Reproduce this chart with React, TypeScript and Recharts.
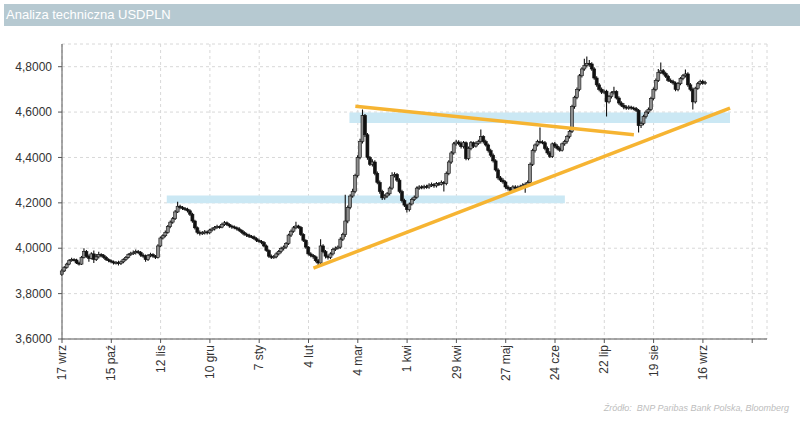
import { ComposedChart, Bar, XAxis, YAxis, CartesianGrid, ReferenceLine, ReferenceArea } from "recharts";

const FONT = "'Liberation Sans', Arial, sans-serif";

// USDPLN daily candles, trading-day index 0 = 17 wrz
const FIRST_OPEN = 3.885;

const CLOSE = [
  3.900, 3.915, 3.930, 3.945, 3.950,
  3.948, 3.935, 3.930, 3.960, 3.985,
  3.965, 3.955, 3.975, 3.950, 3.962,
  3.972, 3.968, 3.960, 3.950, 3.945,
  3.940, 3.935, 3.938, 3.932, 3.940,
  3.950, 3.960, 3.972, 3.978, 3.980,
  3.985, 3.982, 3.970, 3.965, 3.950,
  3.968, 3.972, 3.965, 3.960, 4.010,
  4.045, 4.055, 4.070, 4.095, 4.115,
  4.130, 4.160, 4.185, 4.180, 4.175,
  4.172, 4.165, 4.150, 4.120, 4.090,
  4.070, 4.065, 4.068, 4.072, 4.068,
  4.080, 4.085, 4.092, 4.095, 4.093,
  4.105, 4.112, 4.105, 4.098, 4.094,
  4.090, 4.085, 4.078, 4.070, 4.062,
  4.058, 4.052, 4.050, 4.042, 4.035,
  4.030, 4.025, 4.010, 3.990, 3.965,
  3.960, 3.962, 3.975, 3.985, 3.998,
  4.005, 4.020, 4.058, 4.075, 4.090,
  4.098, 4.092, 4.060, 4.035, 4.005,
  3.975, 3.968, 3.962, 3.945, 3.935,
  4.010, 3.985, 3.965, 3.960, 3.975,
  3.995, 4.000, 4.005, 4.040, 4.060,
  4.120, 4.180, 4.230, 4.250, 4.320,
  4.400, 4.470, 4.585, 4.500, 4.400,
  4.370, 4.380, 4.330, 4.290, 4.250,
  4.222, 4.230, 4.240, 4.265, 4.320,
  4.325, 4.300, 4.250, 4.210, 4.190,
  4.170, 4.195, 4.215, 4.225, 4.265,
  4.270, 4.268, 4.272, 4.270, 4.278,
  4.280, 4.275, 4.285, 4.282, 4.290,
  4.285, 4.330, 4.380, 4.420, 4.460,
  4.468, 4.462, 4.448, 4.465, 4.395,
  4.440, 4.465, 4.450, 4.462, 4.470,
  4.492, 4.470, 4.455, 4.430, 4.410,
  4.385, 4.345, 4.310, 4.300, 4.292,
  4.270, 4.262, 4.255, 4.270, 4.265,
  4.268, 4.272, 4.278, 4.282, 4.290,
  4.370, 4.430, 4.455, 4.470, 4.468,
  4.465, 4.440, 4.420, 4.405, 4.460,
  4.450, 4.440, 4.432, 4.460, 4.470,
  4.492, 4.515, 4.625, 4.665, 4.700,
  4.760, 4.790, 4.805, 4.815, 4.812,
  4.790, 4.750, 4.720, 4.700, 4.688,
  4.692, 4.645, 4.668, 4.685, 4.690,
  4.662, 4.640, 4.630, 4.622, 4.618,
  4.622, 4.618, 4.615, 4.608, 4.540,
  4.550, 4.580, 4.600, 4.612, 4.660,
  4.700, 4.740, 4.775, 4.782, 4.770,
  4.758, 4.740, 4.735, 4.728, 4.700,
  4.725, 4.748, 4.760, 4.768, 4.720,
  4.700, 4.645, 4.705, 4.725, 4.735,
  4.728, 4.730,
];

const HIGH = [
  3.908, 3.922, 3.936, 3.952, 3.958,
  3.956, 3.954, 3.942, 3.966, 4.000,
  3.992, 3.972, 3.982, 3.990, 3.975,
  3.985, 3.978, 3.975, 3.966, 3.956,
  3.950, 3.946, 3.944, 3.945, 3.946,
  3.956, 3.966, 3.978, 3.985, 3.990,
  3.994, 3.992, 3.988, 3.978, 3.972,
  3.975, 3.980, 3.978, 3.970, 4.018,
  4.052, 4.062, 4.078, 4.102, 4.122,
  4.138, 4.168, 4.205, 4.192, 4.186,
  4.182, 4.178, 4.172, 4.156, 4.126,
  4.096, 4.078, 4.076, 4.080, 4.078,
  4.086, 4.092, 4.098, 4.104, 4.100,
  4.112, 4.120, 4.118, 4.110, 4.104,
  4.100, 4.096, 4.092, 4.084, 4.076,
  4.068, 4.064, 4.058, 4.056, 4.048,
  4.042, 4.036, 4.032, 4.016, 3.996,
  3.972, 3.970, 3.982, 3.992, 4.006,
  4.012, 4.028, 4.064, 4.082, 4.098,
  4.117, 4.104, 4.098, 4.066, 4.040,
  4.010, 3.982, 3.975, 3.968, 3.952,
  4.040, 4.018, 3.992, 3.972, 3.982,
  4.002, 4.008, 4.012, 4.048, 4.068,
  4.236, 4.188, 4.238, 4.262, 4.328,
  4.410, 4.482, 4.611, 4.592, 4.508,
  4.406, 4.392, 4.388, 4.338, 4.298,
  4.258, 4.238, 4.248, 4.272, 4.335,
  4.335, 4.332, 4.308, 4.258, 4.218,
  4.196, 4.202, 4.222, 4.232, 4.272,
  4.278, 4.278, 4.280, 4.280, 4.286,
  4.290, 4.288, 4.292, 4.292, 4.298,
  4.296, 4.338, 4.388, 4.428, 4.468,
  4.478, 4.476, 4.470, 4.472, 4.470,
  4.448, 4.472, 4.470, 4.470, 4.478,
  4.523, 4.498, 4.478, 4.462, 4.438,
  4.418, 4.392, 4.352, 4.318, 4.308,
  4.298, 4.278, 4.270, 4.278, 4.278,
  4.276, 4.280, 4.286, 4.290, 4.298,
  4.378, 4.438, 4.462, 4.478, 4.532,
  4.476, 4.472, 4.448, 4.428, 4.466,
  4.468, 4.458, 4.448, 4.466, 4.478,
  4.500, 4.522, 4.632, 4.672, 4.708,
  4.768, 4.798, 4.835, 4.845, 4.830,
  4.820, 4.798, 4.758, 4.728, 4.708,
  4.700, 4.698, 4.675, 4.692, 4.712,
  4.696, 4.670, 4.648, 4.640, 4.630,
  4.630, 4.628, 4.625, 4.622, 4.614,
  4.558, 4.588, 4.608, 4.620, 4.668,
  4.708, 4.748, 4.790, 4.818, 4.790,
  4.778, 4.765, 4.748, 4.742, 4.735,
  4.732, 4.755, 4.768, 4.788, 4.775,
  4.728, 4.708, 4.712, 4.732, 4.742,
  4.742, 4.738,
];

const LOW = [
  3.878, 3.895, 3.910, 3.925, 3.940,
  3.942, 3.930, 3.924, 3.926, 3.955,
  3.958, 3.940, 3.950, 3.935, 3.944,
  3.955, 3.960, 3.954, 3.944, 3.938,
  3.934, 3.928, 3.928, 3.924, 3.926,
  3.934, 3.944, 3.955, 3.966, 3.970,
  3.972, 3.975, 3.962, 3.958, 3.940,
  3.944, 3.960, 3.958, 3.952, 3.955,
  4.004, 4.038, 4.048, 4.064, 4.088,
  4.108, 4.124, 4.155, 4.172, 4.168,
  4.165, 4.158, 4.142, 4.112, 4.082,
  4.062, 4.056, 4.058, 4.060, 4.060,
  4.062, 4.074, 4.078, 4.086, 4.086,
  4.088, 4.098, 4.098, 4.090, 4.086,
  4.084, 4.078, 4.072, 4.064, 4.055,
  4.050, 4.045, 4.044, 4.036, 4.028,
  4.024, 4.018, 4.004, 3.984, 3.958,
  3.952, 3.954, 3.956, 3.968, 3.978,
  3.990, 3.998, 4.014, 4.050, 4.068,
  4.084, 4.086, 4.054, 4.028, 3.998,
  3.968, 3.960, 3.954, 3.938, 3.925,
  3.930, 3.978, 3.955, 3.950, 3.952,
  3.968, 3.988, 3.994, 3.998, 4.032,
  4.050, 4.110, 4.172, 4.222, 4.242,
  4.312, 4.392, 4.462, 4.490, 4.390,
  4.362, 4.360, 4.322, 4.282, 4.240,
  4.212, 4.214, 4.222, 4.232, 4.258,
  4.312, 4.292, 4.242, 4.202, 4.182,
  4.158, 4.162, 4.188, 4.208, 4.218,
  4.258, 4.260, 4.260, 4.262, 4.262,
  4.270, 4.266, 4.268, 4.274, 4.276,
  4.250, 4.278, 4.322, 4.372, 4.412,
  4.452, 4.454, 4.440, 4.440, 4.388,
  4.388, 4.432, 4.442, 4.444, 4.455,
  4.462, 4.462, 4.448, 4.422, 4.402,
  4.378, 4.338, 4.302, 4.292, 4.284,
  4.262, 4.254, 4.248, 4.250, 4.258,
  4.256, 4.262, 4.266, 4.245, 4.275,
  4.284, 4.362, 4.422, 4.448, 4.460,
  4.458, 4.432, 4.412, 4.398, 4.398,
  4.442, 4.432, 4.425, 4.426, 4.452,
  4.462, 4.484, 4.508, 4.615, 4.656,
  4.692, 4.752, 4.782, 4.796, 4.800,
  4.782, 4.742, 4.712, 4.692, 4.680,
  4.680, 4.580, 4.638, 4.660, 4.678,
  4.655, 4.632, 4.622, 4.612, 4.610,
  4.610, 4.610, 4.608, 4.600, 4.510,
  4.530, 4.542, 4.572, 4.592, 4.605,
  4.652, 4.692, 4.732, 4.768, 4.762,
  4.750, 4.732, 4.728, 4.720, 4.692,
  4.692, 4.718, 4.740, 4.752, 4.712,
  4.692, 4.611, 4.638, 4.698, 4.718,
  4.720, 4.720,
];

const X_TICKS = [0, 20, 40, 60, 80, 100, 120, 140, 160, 180, 200, 220, 240, 260, 280];
const X_LABELS = [
  "17 wrz", "15 paź", "12 lis", "10 gru", "7 sty", "4 lut", "4 mar", "1 kwi",
  "29 kwi", "27 maj", "24 cze", "22 lip", "19 sie", "16 wrz", "",
];
const Y_TICKS = [3.6, 3.8, 4.0, 4.2, 4.4, 4.6, 4.8];

// trend lines and zones (x = trading-day index)
const SUPPORT_LINE = [{ x: 102, y: 3.912 }, { x: 271, y: 4.617 }];
const RESISTANCE_LINE = [{ x: 119, y: 4.626 }, { x: 232, y: 4.5 }];
const ZONES = [
  { x1: 42.5, x2: 204, y1: 4.198, y2: 4.232 },
  { x1: 116.6, x2: 271, y1: 4.552, y2: 4.598 },
];

const data = CLOSE.map((close, i) => ({
  i,
  open: i === 0 ? FIRST_OPEN : CLOSE[i - 1],
  close,
  high: HIGH[i],
  low: LOW[i],
  range: [LOW[i], HIGH[i]],
}));

function Candle(props: any) {
  const { x, y, width, height, payload } = props;
  if (x == null || y == null) return null;
  const { open, close, high, low } = payload;
  const yTop = Math.min(y, y + height);
  const yBot = Math.max(y, y + height);
  const span = high - low || 1e-6;
  const toY = (v: number) => yTop + ((high - v) / span) * (yBot - yTop);
  const up = close >= open;
  const bTop = toY(Math.max(open, close));
  const bBot = toY(Math.min(open, close));
  const cx = x + width / 2;
  return (
    <g>
      <line x1={cx} x2={cx} y1={yTop} y2={yBot} stroke="#111" strokeWidth={1.1} />
      <rect
        x={cx - 1.5}
        y={bTop}
        width={3}
        height={Math.max(bBot - bTop, 1)}
        fill={up ? "#8e8e8e" : "#111"}
        stroke="#111"
        strokeWidth={0.6}
      />
    </g>
  );
}

function DateTick(props: any) {
  const { x, y, payload } = props;
  const label = X_LABELS[Math.round(payload.value / 20)] ?? "";
  return (
    <text
      x={x}
      y={y}
      dy="0.35em"
      transform={`rotate(-90, ${x}, ${y})`}
      textAnchor="end"
      fontSize={12}
      fontFamily={FONT}
      fill="#333"
    >
      {label}
    </text>
  );
}

export default function App() {
  return (
    <div style={{ position: "absolute", left: 0, top: 0, width: 800, height: 422, background: "#fff" }}>
      <div
        style={{
          position: "absolute",
          left: 4,
          top: 4,
          width: 796,
          height: 22,
          background: "#b6c9d1",
          color: "#fff",
          fontFamily: FONT,
          fontSize: 13,
          lineHeight: "22px",
          paddingLeft: 2,
          boxSizing: "border-box",
        }}
      >
        Analiza techniczna USDPLN
      </div>
      <div style={{ position: "absolute", left: 0, top: 0 }}>
        <ComposedChart width={800} height={422} data={data} margin={{ top: 44, right: 33, left: 7, bottom: 23 }}>
          <CartesianGrid stroke="#d8d8d8" strokeDasharray="3 3" />
          <XAxis
            dataKey="i"
            type="number"
            domain={[0, 286]}
            ticks={X_TICKS}
            interval={0}
            height={60}
            tick={<DateTick />}
            tickSize={4}
            tickMargin={2}
            axisLine={{ stroke: "#555" }}
            tickLine={{ stroke: "#555" }}
          />
          <YAxis
            domain={[3.6, 4.9]}
            ticks={Y_TICKS}
            width={55}
            tickSize={4}
            tickMargin={6}
            tickFormatter={(v: number) => v.toFixed(4).replace(".", ",")}
            tick={{ fontSize: 12, fontFamily: FONT, fill: "#333" }}
            axisLine={{ stroke: "#555" }}
            tickLine={{ stroke: "#555" }}
            allowDataOverflow
          />
          {ZONES.map((z, k) => (
            <ReferenceArea key={k} x1={z.x1} x2={z.x2} y1={z.y1} y2={z.y2} fill="#cbe8f4" fillOpacity={1} stroke="none" />
          ))}
          <Bar dataKey="range" barSize={2} shape={<Candle />} isAnimationActive={false} />
          <ReferenceLine segment={SUPPORT_LINE} stroke="#f6b432" strokeWidth={3.5} />
          <ReferenceLine segment={RESISTANCE_LINE} stroke="#f6b432" strokeWidth={3.5} />
        </ComposedChart>
      </div>
      <div
        style={{
          position: "absolute",
          right: 11,
          top: 403,
          fontFamily: FONT,
          fontSize: 9,
          fontStyle: "italic",
          color: "#bdbdbd",
          whiteSpace: "pre",
        }}
      >
        {"Źródło:  BNP Paribas Bank Polska, Bloomberg"}
      </div>
    </div>
  );
}
